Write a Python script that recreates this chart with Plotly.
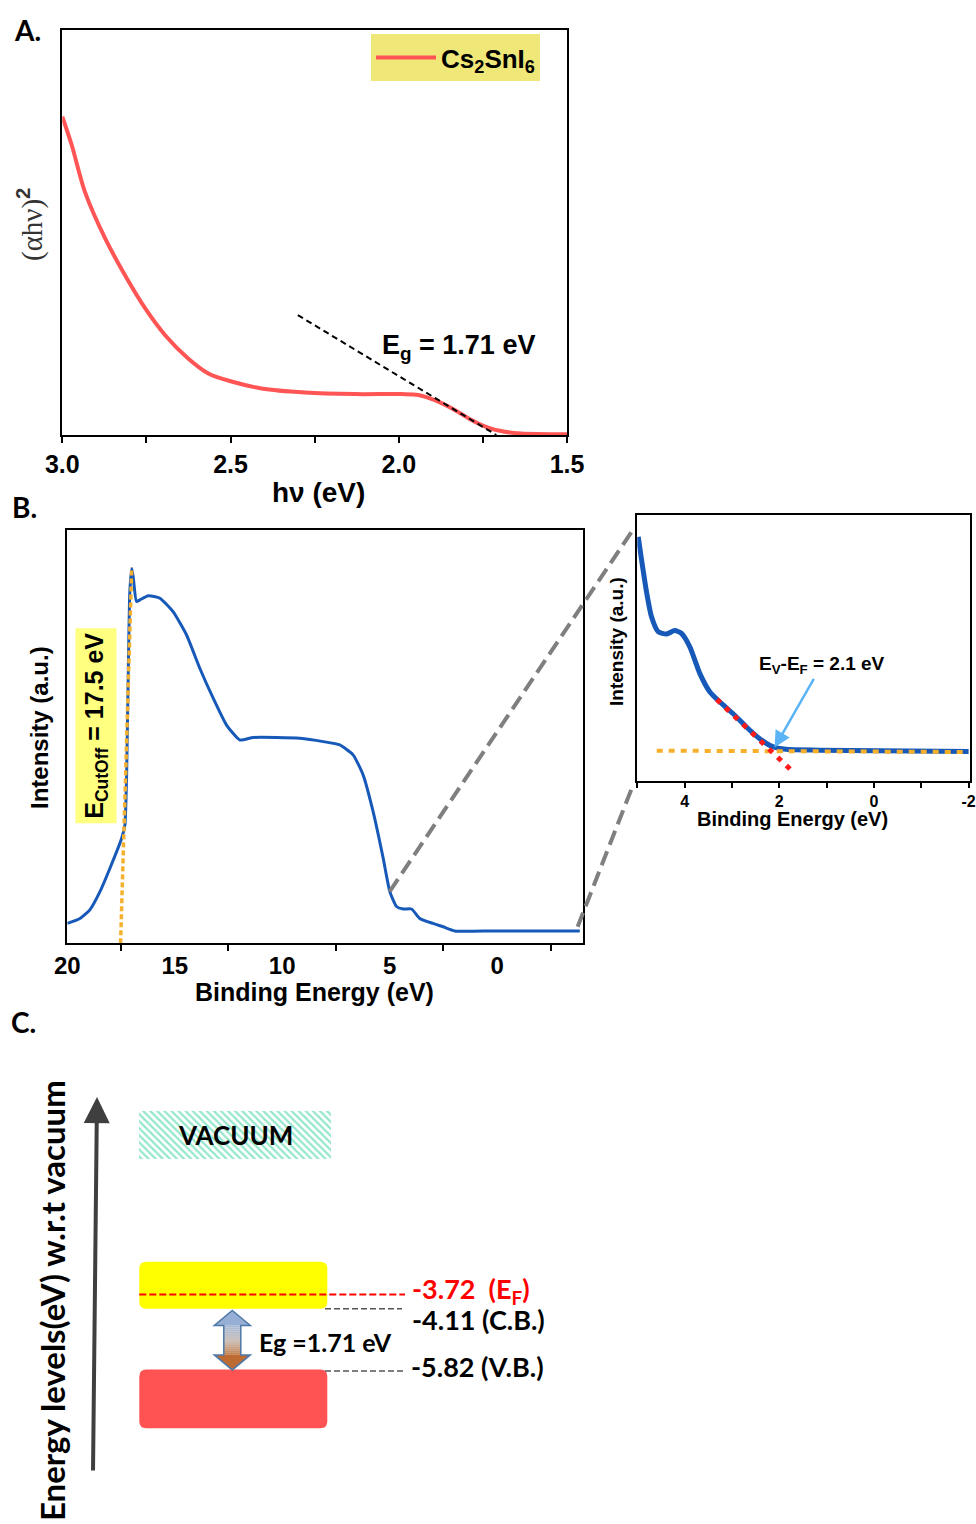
import plotly.graph_objects as go

W, H = 976, 1524

# ---------------- Panel A: Tauc plot ----------------
A_HV = [3.0, 2.972, 2.933, 2.873, 2.814, 2.754, 2.695, 2.626, 2.566, 2.497, 2.408,
        2.279, 2.131, 1.992, 1.942, 1.893, 1.834, 1.784, 1.735, 1.685, 1.636, 1.5]
A_AHV2 = [0.786, 0.716, 0.601, 0.486, 0.395, 0.313, 0.247, 0.189, 0.152, 0.132, 0.115,
          0.105, 0.101, 0.101, 0.099, 0.086, 0.062, 0.037, 0.018, 0.008, 0.004, 0.002]
A_FIT_HV = [2.30, 1.71]
A_FIT_Y = [0.296, 0.0]
A_TICKS = [3.0, 2.5, 2.0, 1.5]
A_TICKTEXT = ["3.0", "2.5", "2.0", "1.5"]
A_MINOR = [2.75, 2.25, 1.75]
A_SERIES = "Cs<sub>2</sub>SnI<sub>6</sub>"
A_EG_LABEL = "E<sub>g</sub> = 1.71 eV"

# ---------------- Panel B: UPS full spectrum ----------------
B_BE = [20.0, 19.41, 18.95, 18.48, 18.02, 17.47, 17.32, 17.24, 17.16, 17.09, 17.0, 16.93,
        16.78, 16.62, 16.23, 15.69, 15.07, 14.45, 13.83, 13.21, 12.59, 11.97, 11.35,
        10.26, 9.18, 8.09, 7.32, 6.70, 6.23, 5.77, 5.30, 4.99, 4.68, 4.37, 3.98, 3.60,
        2.98, 2.51, 1.97, 0.19, -3.85]
B_INT = [0.048, 0.060, 0.081, 0.125, 0.181, 0.254, 0.286, 0.407, 0.665, 0.851, 0.907, 0.885,
         0.827, 0.831, 0.841, 0.835, 0.802, 0.746, 0.665, 0.593, 0.528, 0.492, 0.498,
         0.498, 0.496, 0.488, 0.480, 0.456, 0.407, 0.319, 0.206, 0.125, 0.089, 0.083, 0.083,
         0.060, 0.048, 0.040, 0.030, 0.030, 0.030]
B_CUT_BE = [17.52, 17.0]
B_CUT_Y = [0.0, 0.91]
B_TICKS = [20, 15, 10, 5, 0]
B_TICKTEXT = ["20", "15", "10", "5", "0"]
B_MINOR = [17.5, 12.5, 7.5, 2.5, -2.5]
B_CUT_LABEL = "E<sub>CutOff</sub> = 17.5 eV"

# ---------------- Inset: valence band edge ----------------
I_BE = [4.98, 4.91, 4.80, 4.70, 4.56, 4.38, 4.21, 4.07, 3.89, 3.68, 3.47, 3.26, 2.98,
        2.70, 2.42, 2.14, 1.86, 1.15, -2.0]
I_INT = [0.918, 0.831, 0.705, 0.617, 0.561, 0.552, 0.565, 0.555, 0.504, 0.404, 0.335,
         0.297, 0.253, 0.203, 0.159, 0.128, 0.118, 0.115, 0.110]
I_FIT_BE = [3.32, 1.75]
I_FIT_Y = [0.306, 0.040]
I_BASE_BE = [4.59, -2.0]
I_BASE_Y = [0.113, 0.108]
I_TICKS = [4, 2, 0, -2]
I_TICKTEXT = ["4", "2", "0", "-2"]
I_MINOR = [5, 3, 1, -1]
EV_EF = 2.1
EV_EF_Y = 0.125
I_LABEL = "E<sub>V</sub>-E<sub>F</sub> = 2.1 eV"

# ---------------- Panel C: energy levels ----------------
VACUUM = 0.0
EF = -3.72
CB = -4.11
VB = -5.82
EG = 1.71
C_EF_LABEL = "-3.72  (E<sub>F</sub>)"
C_CB_LABEL = "-4.11 (C.B.)"
C_VB_LABEL = "-5.82 (V.B.)"
C_EG_LABEL = "Eg =1.71 eV"

# ---------------- layout geometry ----------------
def px_x(p):
    return p / W

def px_y(p):
    return 1 - p / H

A_DX = [px_x(62.3), px_x(567)]
A_DY = [px_y(435), px_y(30)]
B_DX = [px_x(67.3), px_x(583)]
B_DY = [px_y(943.3), px_y(530)]
I_DX = [px_x(637.3), px_x(970)]
I_DY = [px_y(780.7), px_y(515)]
C_DY = [0.0, 0.30]
C_YR = [-10.02, 2.53]
B_XR = [20, -4]
I_XR = [5, -2.03]

AR = "Arial, Liberation Sans, sans-serif"
CAL = "Lato, Open Sans, sans-serif"

fig = go.Figure()

# Panel A
fig.add_trace(go.Scatter(x=A_HV, y=A_AHV2, mode="lines", name=A_SERIES,
                         line=dict(color="#FF5555", width=4, shape="spline", smoothing=0.8),
                         xaxis="x", yaxis="y", showlegend=True))
fig.add_trace(go.Scatter(x=A_FIT_HV, y=A_FIT_Y, mode="lines",
                         line=dict(color="black", width=2, dash="6px,4px"),
                         xaxis="x", yaxis="y", showlegend=False))
# Panel B
fig.add_trace(go.Scatter(x=B_BE, y=B_INT, mode="lines",
                         line=dict(color="#1659B8", width=3, shape="spline", smoothing=0.5),
                         xaxis="x2", yaxis="y2", showlegend=False))
fig.add_trace(go.Scatter(x=B_CUT_BE, y=B_CUT_Y, mode="lines",
                         line=dict(color="#F7B02C", width=3.5, dash="5px,3px"),
                         xaxis="x2", yaxis="y2", showlegend=False))
# Inset
fig.add_trace(go.Scatter(x=I_BE, y=I_INT, mode="lines",
                         line=dict(color="#1659B8", width=5, shape="spline", smoothing=0.6),
                         xaxis="x3", yaxis="y3", showlegend=False))
fig.add_trace(go.Scatter(x=I_BASE_BE, y=I_BASE_Y, mode="lines",
                         line=dict(color="#F7B02C", width=4, dash="6px,6px"),
                         xaxis="x3", yaxis="y3", showlegend=False))
fig.add_trace(go.Scatter(x=I_FIT_BE, y=I_FIT_Y, mode="lines",
                         line=dict(color="#FF1A1A", width=5, dash="5px,7px"),
                         xaxis="x3", yaxis="y3", showlegend=False))

# Panel C vacuum (hatched bar)
VAC_X0, VAC_X1 = 139.3, 330.7
VAC_TOP = VACUUM + 1.33
fig.add_trace(go.Bar(x=[(VAC_X0 + VAC_X1) / 2], y=[VAC_TOP - VACUUM], base=[VACUUM],
                     width=[VAC_X1 - VAC_X0],
                     marker=dict(color="white", line=dict(width=0),
                                 pattern=dict(shape="\\", fgcolor="#27CF95", bgcolor="white",
                                              size=5, solidity=0.45)),
                     xaxis="x4", yaxis="y4", showlegend=False, hoverinfo="skip"))

axis_common = dict(showline=True, mirror=True, linecolor="black", linewidth=2,
                   showgrid=False, zeroline=False, automargin=False)

fig.update_layout(
    width=W, height=H, margin=dict(l=0, r=0, t=0, b=0, pad=0, autoexpand=False),
    paper_bgcolor="white", plot_bgcolor="white",
    bargap=0,
    xaxis=dict(domain=A_DX, range=[3.0, 1.5], anchor="y", tickmode="array",
               tickvals=A_TICKS, ticktext=A_TICKTEXT, ticks="outside", ticklen=6,
               tickwidth=2, tickcolor="black",
               minor=dict(tickvals=A_MINOR, ticks="outside", ticklen=6, tickwidth=2,
                          tickcolor="black"),
               tickfont=dict(family=AR, size=25, color="black", weight="bold"),
               **axis_common),
    yaxis=dict(domain=A_DY, range=[0, 1], anchor="x", showticklabels=False, ticks="",
               **axis_common),
    xaxis2=dict(domain=B_DX, range=B_XR, anchor="y2", tickmode="array",
                tickvals=B_TICKS, ticktext=B_TICKTEXT, ticks="", ticklen=6,
                minor=dict(tickvals=B_MINOR, ticks="outside", ticklen=6, tickwidth=2,
                           tickcolor="black"),
                tickfont=dict(family=AR, size=24, color="black", weight="bold"),
                **axis_common),
    yaxis2=dict(domain=B_DY, range=[0, 1], anchor="x2", showticklabels=False, ticks="",
                **axis_common),
    xaxis3=dict(domain=I_DX, range=I_XR, anchor="y3", tickmode="array",
                tickvals=I_TICKS, ticktext=I_TICKTEXT, ticks="outside", ticklen=5,
                tickwidth=2, tickcolor="black",
                minor=dict(tickvals=I_MINOR, ticks="outside", ticklen=5, tickwidth=2,
                           tickcolor="black"),
                tickfont=dict(family=AR, size=16, color="black", weight="bold"),
                **axis_common),
    yaxis3=dict(domain=I_DY, range=[0, 1], anchor="x3", showticklabels=False, ticks="",
                **axis_common),
    xaxis4=dict(domain=[0, 1], range=[0, W], anchor="y4", visible=False, fixedrange=True),
    yaxis4=dict(domain=C_DY, range=C_YR, anchor="x4", visible=False, fixedrange=True),
    legend=dict(x=px_x(371), y=px_y(34), xanchor="left", yanchor="top",
                bgcolor="#EFE878", borderwidth=0, itemwidth=60,
                font=dict(family=AR, size=26, color="black", weight="bold")),
)

def A(**kw):
    kw.setdefault("xanchor", "center")
    kw.setdefault("yanchor", "middle")
    kw.setdefault("showarrow", False)
    return kw

ann = []
# Panel letters
for lab, xp, yp in [("A.", 27, 30), ("B.", 24, 507), ("C.", 23, 1022)]:
    ann.append(A(text=lab, x=px_x(xp), y=px_y(yp), xref="paper", yref="paper",
                 font=dict(family=CAL, size=28, color="black", weight="bold")))
# Panel A titles
ann.append(A(text="hν (eV)", x=px_x(318), y=px_y(493), xref="paper", yref="paper",
             font=dict(family=AR, size=28, color="black", weight="bold")))
ann.append(A(text='<span style="font-family:Liberation Serif">(αhν)</span><sup><b>2</b></sup>',
             x=px_x(31), y=px_y(225), xref="paper", yref="paper", textangle=-90,
             font=dict(family=AR, size=29, color="#333333")))
# Eg label
ann.append(A(text=A_EG_LABEL, x=2.057, y=0.217, xref="x", yref="y", xanchor="left",
             font=dict(family=AR, size=27, color="black", weight="bold")))
# Panel B titles
ann.append(A(text="Binding Energy (eV)", x=px_x(314), y=px_y(992), xref="paper",
             yref="paper", font=dict(family=AR, size=25, color="black", weight="bold")))
ann.append(A(text="Intensity (a.u.)", x=px_x(39), y=px_y(728), xref="paper", yref="paper",
             textangle=-90, font=dict(family=AR, size=24, color="black", weight="bold")))
ann.append(A(text=B_CUT_LABEL, x=18.67, y=0.526, xref="x2", yref="y2", textangle=-90,
             bgcolor="#FFFF80", borderpad=4,
             font=dict(family=AR, size=25, color="black", weight="bold")))
# Inset titles
ann.append(A(text="Binding Energy (eV)", x=px_x(792), y=px_y(819), xref="paper",
             yref="paper", font=dict(family=AR, size=20, color="black", weight="bold")))
ann.append(A(text="Intensity (a.u.)", x=px_x(617), y=px_y(642), xref="paper",
             yref="paper", textangle=-90,
             font=dict(family=AR, size=19, color="black", weight="bold")))
ann.append(A(text=I_LABEL, x=EV_EF, y=EV_EF_Y, xref="x3", yref="y3", ax=47, ay=-82,
             showarrow=True, arrowhead=2, arrowsize=1.3, arrowwidth=2.5,
             arrowcolor="#5AB4F5",
             font=dict(family=AR, size=19, color="black", weight="bold")))

# Panel C texts
ann.append(A(text="VACUUM", x=(VAC_X0 + VAC_X1) / 2, y=(VACUUM + VAC_TOP) / 2,
             xref="x4", yref="y4",
             font=dict(family=CAL, size=26, color="black", weight="bold")))
ann.append(A(text=C_EF_LABEL, x=410, y=EF, xref="x4", yref="y4", xanchor="left",
             yshift=4, font=dict(family=CAL, size=27, color="#FF0000", weight="bold")))
ann.append(A(text=C_CB_LABEL, x=410, y=CB, xref="x4", yref="y4", xanchor="left",
             yshift=-11, font=dict(family=CAL, size=27, color="black", weight="bold")))
ann.append(A(text=C_VB_LABEL, x=409, y=VB, xref="x4", yref="y4", xanchor="left",
             yshift=4, font=dict(family=CAL, size=27, color="black", weight="bold")))
ann.append(A(text=C_EG_LABEL, x=257, y=(CB + VB) / 2, xref="x4", yref="y4",
             xanchor="left", yshift=-2, font=dict(family=CAL, size=25, color="black", weight="bold")))
ann.append(A(text="Energy levels(eV) w.r.t vacuum", x=px_x(52), y=px_y(1301),
             xref="paper", yref="paper", textangle=-90,
             font=dict(family=CAL, size=33, color="black", weight="bold")))
# Big vertical arrow
ann.append(dict(text="", x=97, y=1.70, ax=93, ay=-8.59, xref="x4", yref="y4",
                axref="x4", ayref="y4", showarrow=True, arrowhead=2, arrowsize=1.3,
                arrowwidth=4, arrowcolor="#3F3F3F", standoff=0))
fig.update_layout(annotations=ann)

# ---------------- shapes ----------------
shapes = []

def b_paper(x, y):
    fx = (x - B_XR[0]) / (B_XR[1] - B_XR[0])
    return B_DX[0] + fx * (B_DX[1] - B_DX[0]), B_DY[0] + y * (B_DY[1] - B_DY[0])

def i_paper(fx, fy):
    return I_DX[0] + fx * (I_DX[1] - I_DX[0]), I_DY[0] + fy * (I_DY[1] - I_DY[0])

# zoom connectors (from B curve to inset corners)
for (bx, by), (ifx, ify) in [((5.0, 0.125), (-0.017, 0.937)), ((-3.75, 0.04), (-0.017, -0.03))]:
    x0, y0 = b_paper(bx, by)
    x1, y1 = i_paper(ifx, ify)
    shapes.append(dict(type="line", xref="paper", yref="paper", x0=x0, y0=y0, x1=x1, y1=y1,
                       line=dict(color="#7F7F7F", width=4, dash="15px,7px")))

# Panel C: rounded band boxes
PX_PER_EV = (C_DY[1] - C_DY[0]) * H / (C_YR[1] - C_YR[0])

def rrect(x0, x1, y0, y1, r=7):
    ry = r / PX_PER_EV
    return (f"M{x0 + r},{y1} L{x1 - r},{y1} Q{x1},{y1} {x1},{y1 - ry} L{x1},{y0 + ry} "
            f"Q{x1},{y0} {x1 - r},{y0} L{x0 + r},{y0} Q{x0},{y0} {x0},{y0 + ry} "
            f"L{x0},{y1 - ry} Q{x0},{y1} {x0 + r},{y1} Z")

BOX_X0, BOX_X1 = 139.3, 327.3
CB_TOP = CB + 1.29
VB_BOT = VB - 1.57
shapes.append(dict(type="path", xref="x4", yref="y4", path=rrect(BOX_X0, BOX_X1, CB, CB_TOP),
                   fillcolor="#FFFF00", line=dict(width=0)))
shapes.append(dict(type="path", xref="x4", yref="y4", path=rrect(BOX_X0, BOX_X1, VB_BOT, VB + 0.04),
                   fillcolor="#FF5252", line=dict(width=0)))
# Fermi level and band edge leader lines
shapes.append(dict(type="line", xref="x4", yref="y4", x0=BOX_X0, x1=405, y0=EF, y1=EF,
                   line=dict(color="#FF0000", width=2, dash="7px,3px")))
shapes.append(dict(type="line", xref="x4", yref="y4", x0=325, x1=402, y0=CB, y1=CB,
                   line=dict(color="#555555", width=1.6, dash="6px,3px")))
shapes.append(dict(type="line", xref="x4", yref="y4", x0=325, x1=404, y0=VB, y1=VB,
                   line=dict(color="#555555", width=1.6, dash="6px,3px")))

# Double-headed gradient arrow between CB and VB
def hex2rgb(h):
    h = h.lstrip("#")
    return tuple(int(h[i:i + 2], 16) for i in (0, 2, 4))

def mix(c1, c2, t):
    a, b = hex2rgb(c1), hex2rgb(c2)
    return "rgb(%d,%d,%d)" % tuple(round(a[i] + (b[i] - a[i]) * t) for i in range(3))

CX = 232.3
top_tip = CB - 0.05
bot_tip = VB + 0.03
hh = 15 / PX_PER_EV
HW, SW = 18, 8.5
s_top, s_bot = top_tip - hh, bot_tip + hh
N = 14
for k in range(N):
    ya = s_top + (s_bot - s_top) * k / N
    yb = s_top + (s_bot - s_top) * (k + 1) / N
    t = (k + 0.5) / N
    col = mix("#A7BAD6", "#CBC3BE", t / 0.5) if t < 0.5 else mix("#CBC3BE", "#C5804C", (t - 0.5) / 0.5)
    shapes.append(dict(type="rect", xref="x4", yref="y4", x0=CX - SW, x1=CX + SW,
                       y0=yb, y1=ya + 0.005, fillcolor=col, line=dict(width=0)))
shapes.append(dict(type="path", xref="x4", yref="y4",
                   path=f"M{CX},{top_tip} L{CX + HW},{s_top} L{CX - HW},{s_top} Z",
                   fillcolor="#97AFD5", line=dict(width=0)))
shapes.append(dict(type="path", xref="x4", yref="y4",
                   path=f"M{CX},{bot_tip} L{CX + HW},{s_bot} L{CX - HW},{s_bot} Z",
                   fillcolor="#BE6A33", line=dict(width=0)))
outline = (f"M{CX},{top_tip} L{CX + HW},{s_top} L{CX + SW},{s_top} L{CX + SW},{s_bot} "
           f"L{CX + HW},{s_bot} L{CX},{bot_tip} L{CX - HW},{s_bot} L{CX - SW},{s_bot} "
           f"L{CX - SW},{s_top} L{CX - HW},{s_top} Z")
shapes.append(dict(type="path", xref="x4", yref="y4", path=outline,
                   fillcolor="rgba(0,0,0,0)", line=dict(color="#4E78A8", width=1.5)))

fig.update_layout(shapes=shapes)

fig.write_html("out.html")
